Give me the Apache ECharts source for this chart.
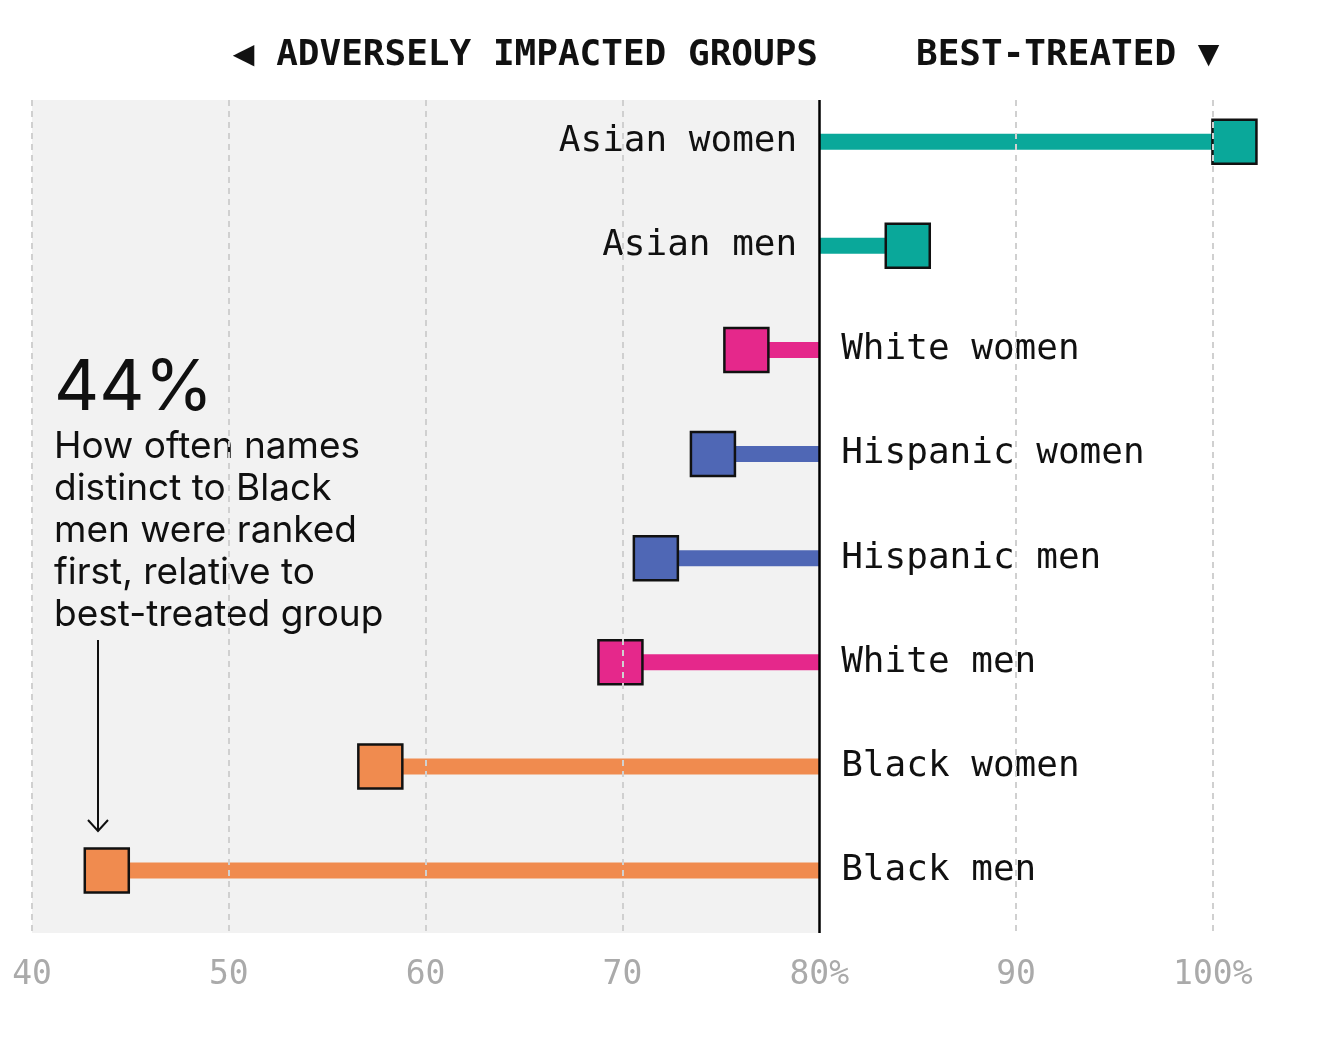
<!DOCTYPE html>
<html><head><meta charset="utf-8">
<script src="https://cdn.jsdelivr.net/npm/echarts@6/dist/echarts.min.js"></script>
<style>html,body{margin:0;background:#fff}#c{width:1320px;height:1047px}</style>
</head><body><div id="c"></div>
<script>
var groups = ['Asian women', 'Asian men', 'White women', 'Hispanic women', 'Hispanic men', 'White men', 'Black women', 'Black men']
var values = [101.1, 84.5, 76.3, 74.6, 71.7, 69.9, 57.7, 43.8]
var colors = ['#0aa89a', '#0aa89a', '#e5288b', '#4f67b5', '#4f67b5', '#e5288b', '#f08b4f', '#f08b4f']
var ticks = [40, 50, 60, 70, 80, 90, 100]
var baseline = 80
var mono = '"DejaVu Sans Mono", "Liberation Mono", monospace'
var sans = 'Inter, "Noto Sans", sans-serif'

var chart = echarts.init(document.getElementById('c'))
var data = values.map(function (v, i) { return [v, i] })

chart.setOption({
  animation: false,
  grid: {left: 32, right: 58, top: 100, bottom: 114},
  xAxis: {
    type: 'value', min: 40, max: 102.5, interval: 10,
    axisLine: {show: false}, axisTick: {show: false},
    splitLine: {show: false},
    axisLabel: {
      margin: 26, color: '#aaa', fontFamily: mono, fontSize: 33,
      formatter: function (v) { return ticks.indexOf(v) < 0 ? '' : (v >= 80 && v % 20 === 0 ? v + '%' : String(v)) }
    }
  },
  yAxis: {type: 'value', inverse: true, min: -0.4, max: 7.6, show: false},
  series: [{
    type: 'custom',
    data: data,
    markArea: {
      silent: true,
      itemStyle: {color: 'rgba(0,0,0,0.05)'},
      data: [[{xAxis: 40, yAxis: -0.4}, {xAxis: 80, yAxis: 7.6}]]
    },
    markLine: {
      silent: true, symbol: 'none', label: {show: false},
      lineStyle: {color: '#d0d0d0', type: [6, 5], width: 2},
      data: ticks.filter(function (t) { return t !== baseline }).map(function (t) { return {xAxis: t} })
        .concat([{xAxis: baseline, lineStyle: {color: '#000', type: 'solid', width: 2.5}}])
    },
    renderItem: function (params, api) {
      var i = params.dataIndex
      var p = api.coord([api.value(0), api.value(1)])
      var b = api.coord([baseline, api.value(1)])
      var s = 44
      var right = values[i] > baseline
      return {
        type: 'group',
        children: [
          {type: 'rect', shape: {x: Math.min(p[0], b[0]), y: p[1] - 8, width: Math.abs(p[0] - b[0]), height: 16}, style: {fill: colors[i]}},
          {type: 'rect', shape: {x: p[0] - s / 2, y: p[1] - s / 2, width: s, height: s}, style: {fill: colors[i], stroke: '#111', lineWidth: 2.5}},
          {type: 'text', x: right ? b[0] - 22 : b[0] + 22, y: p[1],
            style: {text: groups[i], font: '36px ' + mono, fill: '#111', align: right ? 'right' : 'left', verticalAlign: 'middle'}}
        ]
      }
    }
  }],
  graphic: [
    {type: 'text', right: 502, top: 38, style: {text: '◀ ADVERSELY IMPACTED GROUPS', font: 'bold 36px ' + mono, fill: '#111'}},
    {type: 'text', left: 916, top: 38, style: {text: 'BEST-TREATED ▼', font: 'bold 36px ' + mono, fill: '#111'}},
    {type: 'text', left: 54, top: 354, style: {text: '44%', font: '70px ' + sans, fill: '#111'}},
    {type: 'text', left: 54, top: 426, style: {
      text: 'How often names\ndistinct to Black\nmen were ranked\nfirst, relative to\nbest-treated group',
      font: '37px ' + sans, lineHeight: 42, fill: '#111'}},
    {type: 'line', shape: {x1: 98, y1: 640, x2: 98, y2: 830}, style: {stroke: '#111', lineWidth: 2}},
    {type: 'polyline', shape: {points: [[88, 820], [98, 831], [108, 820]]}, style: {stroke: '#111', lineWidth: 2, fill: null}}
  ]
})
</script></body></html>
